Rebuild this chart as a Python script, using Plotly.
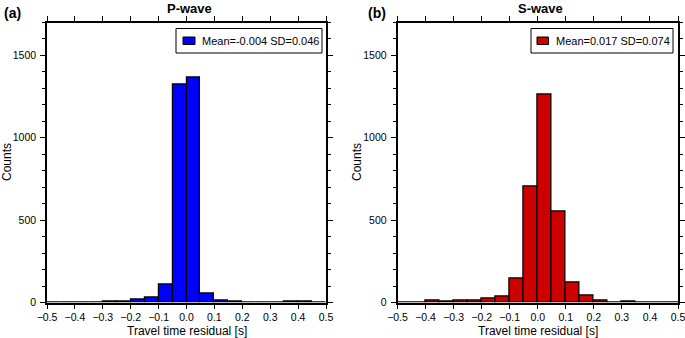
import plotly.graph_objects as go

bin_centers = [-0.475, -0.425, -0.375, -0.325, -0.275, -0.225, -0.175, -0.125, -0.075, -0.025,
               0.025, 0.075, 0.125, 0.175, 0.225, 0.275, 0.325, 0.375, 0.425, 0.475]
p_counts = [2, 1, 1, 2, 5, 6, 16, 32, 110, 1322, 1366, 53, 14, 8, 3, 2, 1, 4, 4, 0]
s_counts = [1, 2, 10, 4, 12, 12, 22, 38, 148, 707, 1260, 555, 122, 43, 14, 1, 4, 2, 1, 0]
p_label = "Mean=-0.004 SD=0.046"
s_label = "Mean=0.017 SD=0.074"
p_color = "#0000FF"
s_color = "#CC0000"
x_ticks = [-0.5, -0.4, -0.3, -0.2, -0.1, 0.0, 0.1, 0.2, 0.3, 0.4, 0.5]
y_ticks = [0, 500, 1000, 1500]

W, H = 685, 338
FONT = "Liberation Sans, Arial, Helvetica, sans-serif"

fig = go.Figure()
fig.add_trace(go.Bar(x=bin_centers, y=p_counts, width=0.05, name=p_label,
                     marker=dict(color=p_color, line=dict(color="black", width=1.2)),
                     xaxis="x", yaxis="y", showlegend=False))
fig.add_trace(go.Bar(x=bin_centers, y=s_counts, width=0.05, name=s_label,
                     marker=dict(color=s_color, line=dict(color="black", width=1.2)),
                     xaxis="x2", yaxis="y2", showlegend=False))

def px_x(v):
    return v / W

def px_y(v):
    return 1 - v / H

xd1 = [px_x(47), px_x(326)]
xd2 = [px_x(397.5), px_x(678)]
yd = [px_y(302.5), px_y(22.5)]

xcommon = dict(range=[-0.5, 0.5], tickvals=x_ticks, ticktext=[("−" if t < 0 else "") + f"{abs(t):.1f}" for t in x_ticks],
               ticks="outside", ticklen=5, tickwidth=1, tickcolor="black",
               showline=True, linecolor="black", linewidth=1.5, mirror="allticks",
               showgrid=False, zeroline=False, tickfont=dict(size=10.5, color="black", family=FONT),
               automargin=False, ticklabeloverflow="allow", ticklabelstandoff=-1)
ycommon = dict(range=[0, 1700], tickvals=y_ticks, ticks="outside", ticklen=5, tickwidth=1,
               tickcolor="black", showline=True, linecolor="black", linewidth=1.5, mirror="allticks",
               showgrid=False, zeroline=False, tickfont=dict(size=10.5, color="black", family=FONT),
               minor=dict(dtick=100, ticks="outside", ticklen=3, tickcolor="black", tickwidth=1, showgrid=False),
               automargin=False, ticklabelstandoff=2)

# legend boxes drawn in paper pixels
def box(x0, x1, y0, y1, fill, lw=1):
    return dict(type="rect", xref="paper", yref="paper",
                x0=px_x(x0), x1=px_x(x1), y0=px_y(y1), y1=px_y(y0),
                fillcolor=fill, line=dict(color="black", width=lw), layer="above")

shapes = [
    box(176, 322, 28.5, 53, "white"),
    box(183, 195, 37, 44.5, p_color),
    box(531, 673, 28.5, 53, "white"),
    box(537, 548.5, 37, 44.5, s_color),
]

fig.update_layout(
    width=W, height=H,
    margin=dict(l=0, r=0, t=0, b=0),
    paper_bgcolor="white", plot_bgcolor="white",
    bargap=0,
    xaxis=dict(domain=xd1, anchor="y", **xcommon),
    yaxis=dict(domain=yd, anchor="x", **ycommon),
    xaxis2=dict(domain=xd2, anchor="y2", **xcommon),
    yaxis2=dict(domain=yd, anchor="x2", **ycommon),
    showlegend=False,
    shapes=shapes,
    font=dict(family=FONT, color="black"),
)

ann = [
    dict(text="<b>P-wave</b>", x=px_x(189), y=px_y(8), font=dict(size=13)),
    dict(text="<b>S-wave</b>", x=px_x(540.5), y=px_y(8), font=dict(size=13)),
    dict(text="<b>(a)</b>", x=px_x(12), y=px_y(12.5), font=dict(size=14)),
    dict(text="<b>(b)</b>", x=px_x(376.5), y=px_y(12.5), font=dict(size=14)),
    dict(text="Counts", x=px_x(7), y=px_y(162), textangle=-90, font=dict(size=12)),
    dict(text="Counts", x=px_x(357), y=px_y(162), textangle=-90, font=dict(size=12)),
    dict(text="Travel time residual [s]", x=px_x(187), y=px_y(331), font=dict(size=12)),
    dict(text="Travel time residual [s]", x=px_x(537.5), y=px_y(331), font=dict(size=12)),
    dict(text=p_label, x=px_x(200), y=px_y(41), xanchor="left", font=dict(size=11)),
    dict(text=s_label, x=px_x(554), y=px_y(41), xanchor="left", font=dict(size=11)),
]
for a in ann:
    a.setdefault("xanchor", "center")
    a.update(xref="paper", yref="paper", showarrow=False, yanchor="middle")
    a["font"].update(family=FONT, color="black")
fig.update_layout(annotations=ann)

fig.write_html("out.html", config={"displayModeBar": False},
               post_script="document.body.style.margin='0px';document.body.style.padding='0px';")
